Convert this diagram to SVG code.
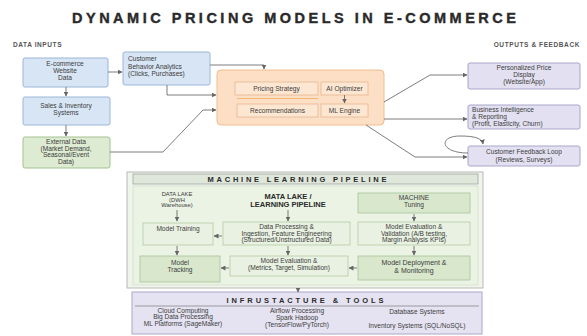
<svg xmlns="http://www.w3.org/2000/svg" width="587" height="336" viewBox="0 0 587 336">
<defs>
<marker id="ah" markerWidth="5" markerHeight="5" refX="4.5" refY="2.5" orient="auto" markerUnits="userSpaceOnUse">
<path d="M0,0 L5,2.5 L0,5 z" fill="#666"/>
</marker>
<style>
text{font-family:"Liberation Sans",Arial,sans-serif;fill:#3c3c3c;text-anchor:middle;font-size:6.6px}
.h{font-weight:bold;fill:#2a2a2a}
.sec{font-weight:bold;font-size:6.5px;fill:#555;letter-spacing:0.6px}
.l{text-anchor:start}
.blue{fill:#d8e5f5;stroke:#9cb6da;stroke-width:1}
.green{fill:#dcebd1;stroke:#a3c391;stroke-width:1}
.orange{fill:#fcdfc4;stroke:#f0bd8d;stroke-width:1}
.oin{fill:#fde7d3;stroke:#e2b088;stroke-width:0.7}
.purple{fill:#e3e1f1;stroke:#a9a5ca;stroke-width:1}
.mlin{fill:#e9f2e2;stroke:#b2caa4;stroke-width:0.8}
.mldk{fill:#d9e8cd;stroke:#a7c398;stroke-width:0.8}
.c{fill:none;stroke:#6e6e6e;stroke-width:0.9;marker-end:url(#ah)}
</style>
</defs>
<rect width="587" height="336" fill="#ffffff"/>
<text x="294" y="22.5" class="h" style="font-size:14.5px;stroke:#2a2a2a;stroke-width:0.4" textLength="444" lengthAdjust="spacing">DYNAMIC PRICING MODELS IN E-COMMERCE</text>
<text x="13" y="47" class="sec l">DATA INPUTS</text>
<text x="580" y="47" class="sec" style="text-anchor:end">OUTPUTS &amp; FEEDBACK</text>

<g id="ecommerce-data">
<rect x="23" y="58" width="85" height="29" rx="2" class="blue"/>
<text x="65" y="66">E-commerce</text><text x="65" y="73">Website</text><text x="65" y="80">Data</text>
</g>
<g id="sales-inventory">
<rect x="23" y="97" width="87" height="28" rx="2" class="blue"/>
<text x="66" y="108">Sales &amp; Inventory</text><text x="66" y="115">Systems</text>
</g>
<g id="external-data">
<rect x="23" y="137" width="87" height="31" rx="2" class="green"/>
<text x="66" y="144">External Data</text><text x="66" y="150.5">(Market Demand,</text><text x="66" y="157">Seasonal/Event</text><text x="66" y="164">Data)</text>
</g>
<g id="customer-behavior">
<rect x="123" y="52" width="87" height="33" rx="2" class="blue"/>
<text x="128" y="61" class="l">Customer</text><text x="128" y="68.5" class="l">Behavior Analytics</text><text x="128" y="76" class="l">(Clicks, Purchases)</text>
</g>

<g id="pricing-engine">
<rect x="217" y="70" width="167" height="55" rx="4" class="orange"/>
<rect x="235" y="82" width="83" height="13" class="oin"/>
<text x="276.5" y="91">Pricing Strategy</text>
<line x1="237" y1="98.5" x2="318" y2="98.5" stroke="#f3a95e" stroke-width="0.8"/>
<rect x="237" y="104" width="81" height="13" class="oin"/>
<text x="277.5" y="113">Recommendations</text>
<rect x="321" y="82" width="47" height="13" class="oin"/>
<text x="344.5" y="91">AI Optimizer</text>
<rect x="321" y="104" width="47" height="13" class="oin"/>
<text x="344.5" y="113">ML Engine</text>
</g>

<g id="price-display">
<rect x="468" y="63" width="112" height="26" rx="2" class="purple"/>
<text x="524" y="70">Personalized Price</text><text x="524" y="76.5">Display</text><text x="524" y="84">(Website/App)</text>
</g>
<g id="business-intelligence">
<rect x="468" y="105" width="112" height="24" rx="2" class="purple"/>
<text x="472" y="112" class="l">Business Intelligence</text><text x="472" y="118.5" class="l">&amp; Reporting</text><text x="472" y="125.5" class="l">(Profit, Elasticity, Churn)</text>
</g>
<g id="feedback-loop">
<rect x="468" y="146" width="112" height="20" rx="2" class="purple"/>
<text x="524" y="154">Customer Feedback Loop</text><text x="524" y="161.5">(Reviews, Surveys)</text>
</g>

<g id="ml-pipeline">
<rect x="127" y="172" width="356" height="116" fill="#f0f5eb" stroke="#b8b8b8" stroke-width="1"/>
<rect x="133" y="174" width="345" height="10" fill="#dfe6da" stroke="#9a9a9a" stroke-width="0.7"/>
<text x="297" y="182" class="h" style="font-size:7.5px" textLength="179" lengthAdjust="spacing">MACHINE LEARNING PIPELINE</text>
<rect x="133" y="186" width="345" height="99" fill="#ebf3e4" stroke="#c9d9be" stroke-width="0.6"/>
</g>
<g id="data-lake">
<text x="177" y="196" style="font-size:5.8px">DATA LAKE</text><text x="177" y="201.5" style="font-size:5.8px">(DWH</text><text x="177" y="207" style="font-size:5.8px">Warehouse)</text>
</g>
<g id="model-training">
<rect x="143" y="223" width="70" height="22" class="mlin"/>
<text x="178" y="231">Model Training</text>
</g>
<g id="model-tracking">
<rect x="140" y="256" width="80" height="26" class="mldk"/>
<text x="180" y="265">Model</text><text x="180" y="272">Tracking</text>
</g>
<g id="learning-pipeline">
<text x="288" y="199" class="h" style="font-size:7.5px">MATA LAKE /</text>
<text x="288" y="207" class="h" style="font-size:7.5px">LEARNING PIPELINE</text>
</g>
<g id="data-processing">
<rect x="223" y="222" width="127" height="23" class="mlin"/>
<text x="286.5" y="229">Data Processing &amp;</text><text x="286.5" y="235.5">Ingestion, Feature Engineering</text><text x="286.5" y="242">(Structured/Unstructured Data)</text>
</g>
<g id="model-evaluation">
<rect x="230" y="256" width="118" height="20" class="mlin"/>
<text x="289" y="263">Model Evaluation &amp;</text><text x="289" y="270">(Metrics, Target, Simulation)</text>
</g>
<g id="machine-tuning">
<rect x="358" y="193" width="112" height="20" class="mldk"/>
<text x="414" y="200">MACHINE</text><text x="414" y="207">Tuning</text>
</g>
<g id="model-validation">
<rect x="358" y="222" width="112" height="23" class="mlin"/>
<text x="414" y="229">Model Evaluation &amp;</text><text x="414" y="235.5">Validation (A/B testing,</text><text x="414" y="242">Margin Analysis KPIs)</text>
</g>
<g id="model-deployment">
<rect x="358" y="256" width="112" height="24" class="mldk"/>
<text x="414" y="265" style="font-size:7px">Model Deployment &amp;</text><text x="414" y="272.5" style="font-size:7px">&amp; Monitoring</text>
</g>

<g id="infrastructure">
<rect x="132" y="292" width="350" height="42" fill="#e5e3f2" stroke="#aaa7c8" stroke-width="1"/>
<text x="305" y="303" class="h" style="font-size:7.5px" textLength="157" lengthAdjust="spacing">INFRUSTACTURE &amp; TOOLS</text>
<line x1="135" y1="306" x2="479" y2="306" stroke="#888" stroke-width="0.8"/>
<text x="183" y="313">Cloud Computing</text><text x="183" y="319">Big Data Processing</text><text x="183" y="325.5">ML Platforms (SageMaker)</text>
<text x="297" y="313">Airflow Processing</text><text x="297" y="319.5">Spark Hadoop</text><text x="297" y="327">(TensorFlow/PyTorch)</text>
<text x="417" y="314">Database Systems</text><text x="417" y="328">Inventory Systems (SQL/NoSQL)</text>
</g>

<g id="connectors">
<path class="c" d="M66,87 V96"/>
<path class="c" d="M66,125 V136"/>
<path class="c" d="M108,72 H122"/>
<path class="c" d="M167,85 V95 H216"/>
<path class="c" d="M210,65 H264 V69"/>
<path class="c" d="M110,152 H163 L203,110 H216"/>
<path class="c" d="M344.5,95 V103"/>
<path class="c" d="M384,102 L430,75 H467"/>
<path class="c" d="M384,119 H467"/>
<path class="c" d="M366,125 L415,157 H467"/>
<path class="c" d="M468,153 C440,153 438,136 460,136 C474,136 482,138 483,144"/>
<path class="c" d="M177,210 V221"/>
<path class="c" d="M177,246 V255"/>
<path class="c" d="M288,210 V221"/>
<path class="c" d="M288,246 V255"/>
<path class="c" d="M414,214 V221"/>
<path class="c" d="M414,246 V255"/>
<path class="c" d="M222,236 H214"/>
<path class="c" d="M229,268 H221"/>
<path class="c" d="M357,268 H349"/>
<path class="c" d="M298,288 V292"/>
</g>
</svg>
